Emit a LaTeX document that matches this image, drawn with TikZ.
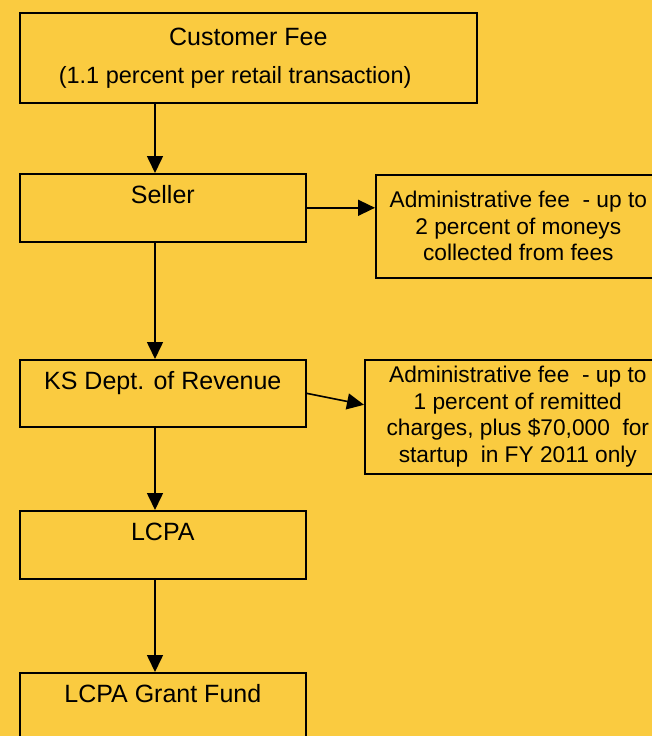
\documentclass[tikz,border=0pt]{standalone}
\usepackage{fontspec}
\setmainfont{Liberation Sans}
\usetikzlibrary{arrows.meta,calc,positioning}

\definecolor{paper}{RGB}{250,203,64}

\tikzset{
  box/.style={draw,line width=1.6pt,inner sep=0pt,minimum width=286pt,text height=30pt,text depth=38pt,anchor=north west,font=\fontsize{25}{30}\selectfont},
  feebox/.style={draw,line width=1.6pt,align=center,anchor=north west,font=\fontsize{22.7}{26.5}\selectfont},
  flow/.style={line width=1.6pt,-{Triangle[length=17pt,width=16pt]}}
}

\begin{document}
\begin{tikzpicture}[x=1pt,y=-1pt]
\fill [paper] (0,0) rectangle (652,736);
\clip (0,0) rectangle (652,736);
\coordinate (spine) at (155,0);
\node [draw,line width=1.6pt,anchor=north west,minimum width=457pt,minimum height=90pt,align=center,font=\fontsize{25}{30}\selectfont] (Fee) at (19,12) {Customer Fee\\[8pt]\makebox[379pt][l]{\fontsize{23.5}{28}\selectfont(1.1 percent per retail transaction)}};
\node [box] (Seller) at (19,173) {Seller};
\node [box,text depth=37pt] (Revenue) at (19,359) {KS Dept. of Revenue};
\node [box] (LCPA) at (19,510) {LCPA};
\node [box] (GrantFund) at (19,672) {LCPA Grant Fund};
\node [feebox,minimum width=285pt,minimum height=103pt] (SellerFee) at (375,174) {Administrative fee~ - up to\\2 percent of moneys\\collected from fees};
\node [feebox,minimum width=306pt,minimum height=114pt] (RevenueFee) at (364,359) {Administrative fee~ - up to\\1 percent of remitted\\charges, plus \$70,000~ for\\startup~ in FY 2011 only};
\draw [flow] (Fee.south -| spine) -- (Seller.north -| spine);
\draw [flow] (Seller.south -| spine) -- (Revenue.north -| spine);
\draw [flow] (Revenue.south -| spine) -- (LCPA.north -| spine);
\draw [flow] (LCPA.south -| spine) -- (GrantFund.north -| spine);
\draw [flow] (Seller.east) -- (Seller.east -| SellerFee.west);
\draw [flow] (Revenue.east) -- ($(RevenueFee.west)+(0,-12)$);
\end{tikzpicture}
\end{document}
